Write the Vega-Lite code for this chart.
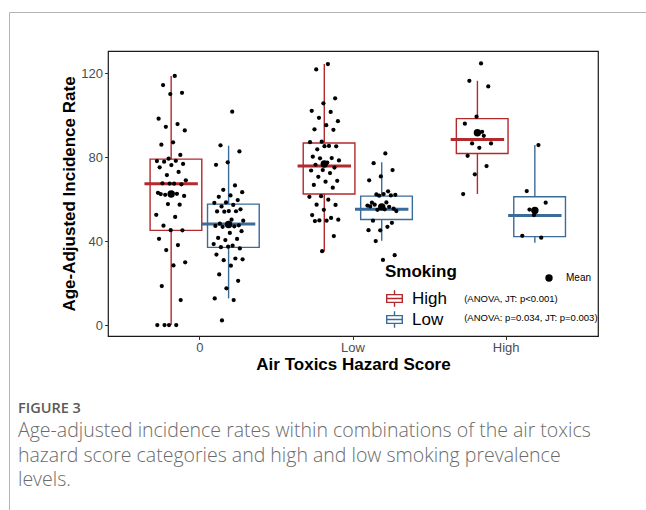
{
 "$schema": "https://vega.github.io/schema/vega-lite/v6.json",
 "autosize": {"type": "none"},
 "width": 490,
 "height": 285,
 "padding": {"left": 108, "top": 51, "right": 48, "bottom": 174},
 "background": "white",
 "config": {"view": {"stroke": "#1a1a1a", "strokeWidth": 1.2}, "font": "Liberation Sans"},
 "datasets": {
  "points": [
   {"score":"0","smoking":"High","rate":118.6},{"score":"0","smoking":"High","rate":114.3},{"score":"0","smoking":"High","rate":110.6},{"score":"0","smoking":"High","rate":110.0},{"score":"0","smoking":"High","rate":98.3},{"score":"0","smoking":"High","rate":95.7},{"score":"0","smoking":"High","rate":94.4},{"score":"0","smoking":"High","rate":92.7},{"score":"0","smoking":"High","rate":87.0},{"score":"0","smoking":"High","rate":85.9},{"score":"0","smoking":"High","rate":81.0},{"score":"0","smoking":"High","rate":79.2},{"score":"0","smoking":"High","rate":78.1},{"score":"0","smoking":"High","rate":78.2},{"score":"0","smoking":"High","rate":77.8},{"score":"0","smoking":"High","rate":76.7},{"score":"0","smoking":"High","rate":76.2},{"score":"0","smoking":"High","rate":75.1},{"score":"0","smoking":"High","rate":72.9},{"score":"0","smoking":"High","rate":71.4},{"score":"0","smoking":"High","rate":68.9},{"score":"0","smoking":"High","rate":67.3},{"score":"0","smoking":"High","rate":67.5},{"score":"0","smoking":"High","rate":67.0},{"score":"0","smoking":"High","rate":67.4},{"score":"0","smoking":"High","rate":63.0},{"score":"0","smoking":"High","rate":62.5},{"score":"0","smoking":"High","rate":62.0},{"score":"0","smoking":"High","rate":61.5},{"score":"0","smoking":"High","rate":62.9},{"score":"0","smoking":"High","rate":62.4},{"score":"0","smoking":"High","rate":57.3},{"score":"0","smoking":"High","rate":57.6},{"score":"0","smoking":"High","rate":52.5},{"score":"0","smoking":"High","rate":51.5},{"score":"0","smoking":"High","rate":47.3},{"score":"0","smoking":"High","rate":45.1},{"score":"0","smoking":"High","rate":45.2},{"score":"0","smoking":"High","rate":41.1},{"score":"0","smoking":"High","rate":38.1},{"score":"0","smoking":"High","rate":35.7},{"score":"0","smoking":"High","rate":29.9},{"score":"0","smoking":"High","rate":28.4},{"score":"0","smoking":"High","rate":18.6},{"score":"0","smoking":"High","rate":11.9},{"score":"0","smoking":"High","rate":0},{"score":"0","smoking":"High","rate":0},{"score":"0","smoking":"High","rate":0},{"score":"0","smoking":"High","rate":0},
   {"score":"0","smoking":"Low","rate":101.6},{"score":"0","smoking":"Low","rate":85.6},{"score":"0","smoking":"Low","rate":82.7},{"score":"0","smoking":"Low","rate":77.5},{"score":"0","smoking":"Low","rate":76.3},{"score":"0","smoking":"Low","rate":66.5},{"score":"0","smoking":"Low","rate":64.4},{"score":"0","smoking":"Low","rate":63.3},{"score":"0","smoking":"Low","rate":61.7},{"score":"0","smoking":"Low","rate":61.1},{"score":"0","smoking":"Low","rate":59.5},{"score":"0","smoking":"Low","rate":58.4},{"score":"0","smoking":"Low","rate":58.2},{"score":"0","smoking":"Low","rate":57.2},{"score":"0","smoking":"Low","rate":56.5},{"score":"0","smoking":"Low","rate":55.1},{"score":"0","smoking":"Low","rate":54.3},{"score":"0","smoking":"Low","rate":54.1},{"score":"0","smoking":"Low","rate":54.2},{"score":"0","smoking":"Low","rate":54.0},{"score":"0","smoking":"Low","rate":49.7},{"score":"0","smoking":"Low","rate":50.2},{"score":"0","smoking":"Low","rate":48.3},{"score":"0","smoking":"Low","rate":47.5},{"score":"0","smoking":"Low","rate":47.8},{"score":"0","smoking":"Low","rate":47.2},{"score":"0","smoking":"Low","rate":47.0},{"score":"0","smoking":"Low","rate":46.8},{"score":"0","smoking":"Low","rate":44.7},{"score":"0","smoking":"Low","rate":43.9},{"score":"0","smoking":"Low","rate":41.5},{"score":"0","smoking":"Low","rate":41.0},{"score":"0","smoking":"Low","rate":40.5},{"score":"0","smoking":"Low","rate":38.6},{"score":"0","smoking":"Low","rate":37.8},{"score":"0","smoking":"Low","rate":37.1},{"score":"0","smoking":"Low","rate":36.5},{"score":"0","smoking":"Low","rate":37.3},{"score":"0","smoking":"Low","rate":33.6},{"score":"0","smoking":"Low","rate":31.7},{"score":"0","smoking":"Low","rate":30.9},{"score":"0","smoking":"Low","rate":31.3},{"score":"0","smoking":"Low","rate":28.3},{"score":"0","smoking":"Low","rate":24.1},{"score":"0","smoking":"Low","rate":21.1},{"score":"0","smoking":"Low","rate":17.5},{"score":"0","smoking":"Low","rate":12.7},{"score":"0","smoking":"Low","rate":11.9},{"score":"0","smoking":"Low","rate":2.2},
   {"score":"Low","smoking":"High","rate":124.3},{"score":"Low","smoking":"High","rate":121.7},{"score":"Low","smoking":"High","rate":108.0},{"score":"Low","smoking":"High","rate":105.6},{"score":"Low","smoking":"High","rate":102.0},{"score":"Low","smoking":"High","rate":101.5},{"score":"Low","smoking":"High","rate":98.7},{"score":"Low","smoking":"High","rate":97.1},{"score":"Low","smoking":"High","rate":95.2},{"score":"Low","smoking":"High","rate":93.2},{"score":"Low","smoking":"High","rate":93.0},{"score":"Low","smoking":"High","rate":87.3},{"score":"Low","smoking":"High","rate":87.1},{"score":"Low","smoking":"High","rate":85.3},{"score":"Low","smoking":"High","rate":83.7},{"score":"Low","smoking":"High","rate":85.1},{"score":"Low","smoking":"High","rate":85.2},{"score":"Low","smoking":"High","rate":80.2},{"score":"Low","smoking":"High","rate":79.5},{"score":"Low","smoking":"High","rate":79.4},{"score":"Low","smoking":"High","rate":78.4},{"score":"Low","smoking":"High","rate":77.4},{"score":"Low","smoking":"High","rate":76.3},{"score":"Low","smoking":"High","rate":75.0},{"score":"Low","smoking":"High","rate":73.8},{"score":"Low","smoking":"High","rate":73.6},{"score":"Low","smoking":"High","rate":72.4},{"score":"Low","smoking":"High","rate":70.6},{"score":"Low","smoking":"High","rate":68.7},{"score":"Low","smoking":"High","rate":68.3},{"score":"Low","smoking":"High","rate":66.7},{"score":"Low","smoking":"High","rate":65.4},{"score":"Low","smoking":"High","rate":61.4},{"score":"Low","smoking":"High","rate":61.1},{"score":"Low","smoking":"High","rate":59.7},{"score":"Low","smoking":"High","rate":57.3},{"score":"Low","smoking":"High","rate":57.2},{"score":"Low","smoking":"High","rate":54.9},{"score":"Low","smoking":"High","rate":52.4},{"score":"Low","smoking":"High","rate":51.0},{"score":"Low","smoking":"High","rate":49.8},{"score":"Low","smoking":"High","rate":50.2},{"score":"Low","smoking":"High","rate":49.7},{"score":"Low","smoking":"High","rate":49.5},{"score":"Low","smoking":"High","rate":42.4},{"score":"Low","smoking":"High","rate":35.2},
   {"score":"Low","smoking":"Low","rate":81.7},{"score":"Low","smoking":"Low","rate":77.1},{"score":"Low","smoking":"Low","rate":73.8},{"score":"Low","smoking":"Low","rate":70.8},{"score":"Low","smoking":"Low","rate":68.9},{"score":"Low","smoking":"Low","rate":63.7},{"score":"Low","smoking":"Low","rate":62.2},{"score":"Low","smoking":"Low","rate":62.0},{"score":"Low","smoking":"Low","rate":62.4},{"score":"Low","smoking":"Low","rate":58.3},{"score":"Low","smoking":"Low","rate":61.7},{"score":"Low","smoking":"Low","rate":61.6},{"score":"Low","smoking":"Low","rate":56.9},{"score":"Low","smoking":"Low","rate":58.4},{"score":"Low","smoking":"Low","rate":57.3},{"score":"Low","smoking":"Low","rate":55.4},{"score":"Low","smoking":"Low","rate":55.9},{"score":"Low","smoking":"Low","rate":56.5},{"score":"Low","smoking":"Low","rate":56.3},{"score":"Low","smoking":"Low","rate":54.9},{"score":"Low","smoking":"Low","rate":54.3},{"score":"Low","smoking":"Low","rate":55.1},{"score":"Low","smoking":"Low","rate":49.7},{"score":"Low","smoking":"Low","rate":48.7},{"score":"Low","smoking":"Low","rate":45.1},{"score":"Low","smoking":"Low","rate":45.2},{"score":"Low","smoking":"Low","rate":46.8},{"score":"Low","smoking":"Low","rate":40.0},{"score":"Low","smoking":"Low","rate":33.3},{"score":"Low","smoking":"Low","rate":31.0},
   {"score":"High","smoking":"High","rate":124.6},{"score":"High","smoking":"High","rate":116.3},{"score":"High","smoking":"High","rate":113.6},{"score":"High","smoking":"High","rate":99.2},{"score":"High","smoking":"High","rate":95.9},{"score":"High","smoking":"High","rate":90.1},{"score":"High","smoking":"High","rate":86.5},{"score":"High","smoking":"High","rate":86.5},{"score":"High","smoking":"High","rate":84.4},{"score":"High","smoking":"High","rate":80.6},{"score":"High","smoking":"High","rate":75.7},{"score":"High","smoking":"High","rate":71.8},{"score":"High","smoking":"High","rate":62.4},{"score":"High","smoking":"High","rate":92.0},
   {"score":"High","smoking":"Low","rate":85.7},{"score":"High","smoking":"Low","rate":63.8},{"score":"High","smoking":"Low","rate":58.3},{"score":"High","smoking":"Low","rate":52.4},{"score":"High","smoking":"Low","rate":42.5},{"score":"High","smoking":"Low","rate":41.6},{"score":"High","smoking":"Low","rate":55.0}
  ],
  "boxes": [
   {"score":"0","smoking":"High","lower":0,"q1":45.1,"median":67.3,"q3":79.0,"upper":118.6,"mean":62.4},
   {"score":"0","smoking":"Low","lower":12.7,"q1":37.0,"median":48.1,"q3":57.6,"upper":85.4,"mean":47.9},
   {"score":"Low","smoking":"High","lower":35.2,"q1":62.4,"median":75.7,"q3":86.7,"upper":124.3,"mean":76.7},
   {"score":"Low","smoking":"Low","lower":40.2,"q1":50.3,"median":55.2,"q3":61.4,"upper":77.5,"mean":56.3},
   {"score":"High","smoking":"High","lower":62.4,"q1":81.7,"median":88.4,"q3":98.3,"upper":116.3,"mean":91.6},
   {"score":"High","smoking":"Low","lower":39.2,"q1":42.1,"median":52.2,"q3":61.1,"upper":85.7,"mean":54.6}
  ]
 },
 "title": {
  "text": "FIGURE 3",
  "subtitle": ["Age-adjusted incidence rates within combinations of the air toxics", "hazard score categories and high and low smoking prevalence", "levels."],
  "orient": "top",
  "anchor": "start",
  "frame": "group",
  "dx": -90,
  "dy": 479,
  "offset": 0,
  "font": "Open Sans",
  "fontSize": 14.5,
  "fontWeight": 600,
  "color": "#5a5a5a",
  "subtitleFont": "Open Sans",
  "subtitleFontSize": 19.5,
  "subtitleFontWeight": 300,
  "subtitleColor": "#6b6b6b",
  "subtitleLineHeight": 24.5,
  "subtitlePadding": 6
 },
 "layer": [
  {
   "data": {"name": "boxes"},
   "encoding": {
    "x": {"field": "score", "type": "nominal", "scale": {"domain": ["0", "Low", "High"], "paddingInner": 0, "paddingOuter": 0.1},
          "axis": {"labelAngle": 0, "domain": false, "tickSize": 3.5, "tickColor": "#333", "labelColor": "#4d4d4d", "labelFontSize": 13, "labelPadding": 2, "title": "Air Toxics Hazard Score", "titleFontSize": 17, "titleFontWeight": "bold", "titleColor": "black", "titlePadding": 2}},
    "xOffset": {"field": "smoking", "type": "nominal", "scale": {"type": "band", "domain": ["High", "Low"], "paddingInner": 0, "paddingOuter": 0.333}},
    "stroke": {"field": "smoking", "type": "nominal", "scale": {"domain": ["High", "Low"], "range": ["#B2292E", "#3A6B99"]},
               "legend": {"orient": "none", "legendX": 277, "legendY": 213, "title": "Smoking", "titleFontSize": 17, "titleFontWeight": "bold", "titleColor": "black", "titlePadding": 8, "labelFontSize": 17, "labelColor": "black", "labelOffset": 8, "symbolType": "M-0.9,-0.45H0.9V0.45H-0.9Z M-0.9,0H0.9 M0,-0.45V-0.95 M0,0.45V0.95", "symbolSize": 300, "symbolStrokeWidth": 1.4, "symbolFillColor": "white", "rowPadding": -4, "padding": 0,
                          "encode": {"symbols": {"update": {"fill": {"value": "white"}, "opacity": {"value": 1}}}}}}
   },
   "layer": [
    {
     "mark": {"type": "rule", "strokeWidth": 1.4},
     "encoding": {
      "y": {"field": "lower", "type": "quantitative", "scale": {"domain": [-5.2, 130.5], "nice": false, "zero": false},
            "axis": {"values": [0, 40, 80, 120], "grid": false, "domain": false, "tickSize": 3.5, "tickColor": "#333", "labelColor": "#4d4d4d", "labelFontSize": 13, "labelPadding": 2, "title": "Age-Adjusted Incidence Rate", "titleFontSize": 17, "titleFontWeight": "bold", "titleColor": "black", "titlePadding": 2}},
      "y2": {"field": "upper"}
     }
    },
    {
     "mark": {"type": "bar", "fill": "white", "strokeWidth": 1.4, "width": {"band": 0.9}},
     "encoding": {
      "y": {"field": "q1", "type": "quantitative"},
      "y2": {"field": "q3"}
     }
    },
    {
     "mark": {"type": "tick", "filled": false, "thickness": 0.6, "strokeWidth": 2.4, "size": 51, "opacity": 1},
     "encoding": {
      "y": {"field": "median", "type": "quantitative"}
     }
    }
   ]
  },
  {
   "data": {"name": "points"},
   "transform": [
    {"window": [{"op": "row_number", "as": "i"}], "groupby": ["score", "smoking"]},
    {"calculate": "(datum.smoking === 'High' ? -0.1875 : 0.1875) + ((datum.i * 0.618034) % 1 - 0.5) * 0.2", "as": "jx"}
   ],
   "mark": {"type": "circle", "size": 18, "color": "black", "opacity": 1},
   "encoding": {
    "x": {"field": "score", "type": "nominal"},
    "xOffset": {"field": "jx", "type": "quantitative", "scale": {"domain": [-0.5, 0.5]}},
    "y": {"field": "rate", "type": "quantitative"}
   }
  },
  {
   "data": {"name": "boxes"},
   "mark": {"type": "point", "filled": true, "size": 55, "color": "black", "opacity": 1},
   "encoding": {
    "x": {"field": "score", "type": "nominal"},
    "xOffset": {"field": "smoking", "type": "nominal", "scale": {"type": "band", "domain": ["High", "Low"], "paddingInner": 0, "paddingOuter": 0.333}},
    "y": {"field": "mean", "type": "quantitative"},
    "shape": {"datum": "Mean", "type": "nominal", "scale": {"range": ["circle"]},
              "legend": {"orient": "none", "legendX": 436, "legendY": 222, "title": null, "labelFontSize": 10, "labelColor": "black", "labelOffset": 12, "symbolSize": 55, "symbolFillColor": "black", "symbolStrokeColor": "black", "symbolType": "circle", "padding": 0}}
   }
  },
  {
   "data": {"values": [{}]},
   "mark": {"type": "text", "text": "(ANOVA, JT: p<0.001)", "align": "left", "baseline": "middle", "dx": -42, "fontSize": 9.5, "color": "black"},
   "encoding": {
    "x": {"datum": "High", "type": "nominal"},
    "y": {"datum": 12.4, "type": "quantitative"},
    "opacity": {"datum": "card", "type": "ordinal", "scale": {"range": [1, 1]},
                "legend": {"orient": "none", "legendX": -99, "legendY": -39, "title": null, "padding": 800, "strokeColor": "#b4b4b4", "symbolOpacity": 0, "labelExpr": "''", "symbolSize": 1}}
   }
  },
  {
   "data": {"values": [{}]},
   "mark": {"type": "text", "text": "(ANOVA: p=0.034, JT: p=0.003)", "align": "left", "baseline": "middle", "dx": -42, "fontSize": 9.5, "color": "black"},
   "encoding": {
    "x": {"datum": "High", "type": "nominal"},
    "y": {"datum": 3.3, "type": "quantitative"}
   }
  }
 ],
 "resolve": {"scale": {"xOffset": "independent"}}
}
